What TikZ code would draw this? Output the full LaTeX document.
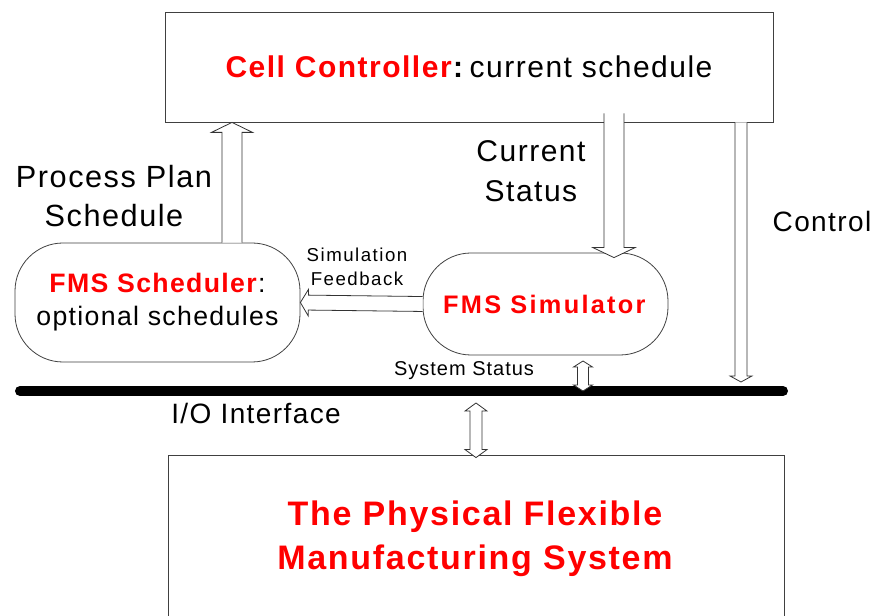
\documentclass[tikz,border=0pt]{standalone}
\usepackage{fontspec}
\setmainfont[LetterSpace=5]{Liberation Sans}
\usetikzlibrary{calc,positioning}
\definecolor{fmsred}{RGB}{255,0,0}
\newcommand{\fsz}[1]{\fontsize{#1}{1.2\dimexpr#1pt\relax}\selectfont}
\tikzset{
  box/.style={draw=black!75, line width=0.6pt, fill=white, inner sep=0pt},
  pill/.style={draw=black!75, line width=0.6pt, fill=white, rounded corners=36pt, inner sep=0pt},
  txt/.style={inner sep=0pt, align=center},
  % hollow block arrow: shaft half width, head half width, head length
  fat/.style n args={3}{draw=black!80, line width=0.6pt, fill=white, to path={
    let \p1=(\tikztostart), \p2=(\tikztotarget),
        \n1={veclen(\x2-\x1,\y2-\y1)},
        \n2={(\x2-\x1)/\n1}, \n3={(\y2-\y1)/\n1}
    in ({\x1-\n3*#1},{\y1+\n2*#1})
    -- ({\x2-\n2*#3-\n3*#1},{\y2-\n3*#3+\n2*#1})
    -- ({\x2-\n2*#3-\n3*#2},{\y2-\n3*#3+\n2*#2})
    -- (\p2)
    -- ({\x2-\n2*#3+\n3*#2},{\y2-\n3*#3-\n2*#2})
    -- ({\x2-\n2*#3+\n3*#1},{\y2-\n3*#3-\n2*#1})
    -- ({\x1+\n3*#1},{\y1-\n2*#1})}},
  fatboth/.style n args={3}{draw=black!80, line width=0.6pt, fill=white, to path={
    let \p1=(\tikztostart), \p2=(\tikztotarget),
        \n1={veclen(\x2-\x1,\y2-\y1)},
        \n2={(\x2-\x1)/\n1}, \n3={(\y2-\y1)/\n1}
    in (\p1)
    -- ({\x1+\n2*#3-\n3*#2},{\y1+\n3*#3+\n2*#2})
    -- ({\x1+\n2*#3-\n3*#1},{\y1+\n3*#3+\n2*#1})
    -- ({\x2-\n2*#3-\n3*#1},{\y2-\n3*#3+\n2*#1})
    -- ({\x2-\n2*#3-\n3*#2},{\y2-\n3*#3+\n2*#2})
    -- (\p2)
    -- ({\x2-\n2*#3+\n3*#2},{\y2-\n3*#3-\n2*#2})
    -- ({\x2-\n2*#3+\n3*#1},{\y2-\n3*#3-\n2*#1})
    -- ({\x1+\n2*#3+\n3*#1},{\y1+\n3*#3-\n2*#1})
    -- ({\x1+\n2*#3+\n3*#2},{\y1+\n3*#3-\n2*#2})
    -- cycle}},
}
\begin{document}
\begin{tikzpicture}[x=0.75pt,y=-0.75pt]
  \useasboundingbox[fill=white] (0,0) rectangle (872,616);

  % boxes
  \node[box, minimum width=456pt, minimum height=82.5pt] (cell) at (469,67)
    {\fsz{22.5}\textcolor{fmsred}{\textbf{Cell Controller}}\textbf{:}\,current schedule};
  \node[box, minimum width=462pt, minimum height=127.5pt] (phys) at (476,540) {};
  \node[txt, text=fmsred, font=\bfseries\fsz{25.5}] (physname) at (475,539)
    {The Physical Flexible\\[2pt]Manufacturing System};

  \node[pill, minimum width=213.75pt, minimum height=89.25pt] (sched) at (157.5,302.5)
    {\fsz{20}\begin{tabular}{@{}c@{}}\textcolor{fmsred}{\textbf{FMS Scheduler}}:\\[1pt]optional schedules\end{tabular}};
  \node[pill, minimum width=183.75pt, minimum height=76.5pt] (simul) at (545.5,304)
    {\fsz{19}\addfontfeature{LetterSpace=9}\textcolor{fmsred}{\textbf{FMS Simulator}}};

  % bus
  \coordinate (busL) at (20,391);
  \coordinate (busR) at (783,391);
  \draw[line width=7.5pt, line cap=round] (busL) -- (busR);

  % labels
  \node[txt, font=\fsz{23}] (pplan) at (114,196) {Process Plan\\[2pt]Schedule};
  \node[txt, font=\fsz{22.5}] (cstat) at (531,171) {Current\\[3pt]Status};
  \node[txt, font=\fsz{21}] (ctrl) at (822,221) {Control};
  \node[txt, font=\fsz{14}\addfontfeature{LetterSpace=8}] (fback) at (357,267) {Simulation\\[1pt]Feedback};
  \node[txt, font=\fsz{15}] (sstat) at (464,371) {System Status};
  \node[txt, font=\fsz{21}] (io) at (256,413) {I/O Interface};

  % arrow positions
  \coordinate (ppx) at (232,0);
  \coordinate (csx) at (614,0);
  \coordinate (ctx) at (741,0);
  \coordinate (ctrlEnd) at (741,382);
  \coordinate (ssTop) at (583,361);
  \coordinate (ioTop) at (476,403);

  % arrows
  \draw[fat={7.5pt}{15.4pt}{7.5pt}] (sched.north -| ppx) to (ppx |- cell.south);
  \draw[fat={7.5pt}{15.8pt}{7.5pt}] ($(csx |- cell.south)+(0,-9)$) to ($(csx |- simul.north)+(0,5)$);
  \draw[fat={5.6pt}{10pt}{6pt}] (simul.west) to (sched.east);
  \draw[fat={4.5pt}{8.2pt}{4.5pt}] (ctx |- cell.south) to (ctrlEnd);
  \draw[fatboth={4.1pt}{7.1pt}{4.5pt}] (ssTop) to (ssTop |- busL);
  \draw[fatboth={4.5pt}{8.2pt}{6pt}] (ioTop) to ($(ioTop |- phys.north)+(0,3)$);
\end{tikzpicture}
\end{document}
